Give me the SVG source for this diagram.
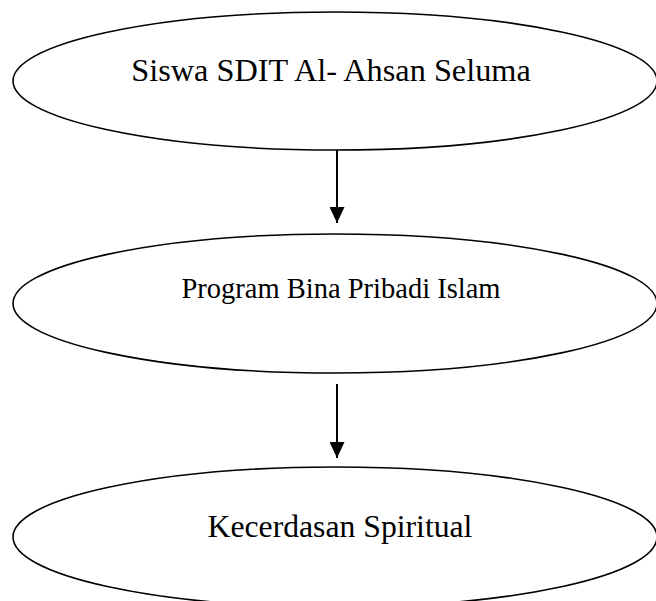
<svg xmlns="http://www.w3.org/2000/svg" width="656" height="601" viewBox="0 0 656 601">
<style>
.node ellipse{fill:#fff;stroke:#000;stroke-width:1.6}
.node text{font-family:"Liberation Serif","Times New Roman",serif;fill:#000;text-anchor:middle}
.conn line{stroke:#000;stroke-width:2}
</style>
<defs>
<marker id="arr" markerWidth="16" markerHeight="15" refX="16" refY="7.5" orient="auto" markerUnits="userSpaceOnUse" viewBox="0 0 16 15">
<path d="M0,0 L16,7.5 L0,15 Z" fill="#000"/>
</marker>
</defs>
<rect width="656" height="601" fill="#fff"/>
<g id="n1" class="node">
<ellipse cx="335" cy="81" rx="322" ry="69"/>
<text x="331" y="81" font-size="32.3">Siswa SDIT Al- Ahsan Seluma</text>
</g>
<g id="n2" class="node">
<ellipse cx="335" cy="303.5" rx="322" ry="69.5"/>
<text x="341" y="298" font-size="28.5">Program Bina Pribadi Islam</text>
</g>
<g id="n3" class="node">
<ellipse cx="335" cy="537" rx="322" ry="70"/>
<text x="340" y="537" font-size="31.7">Kecerdasan Spiritual</text>
</g>
<g id="connectors" class="conn">
<line x1="337" y1="150" x2="337" y2="223" marker-end="url(#arr)"/>
<line x1="337" y1="384" x2="337" y2="458" marker-end="url(#arr)"/>
</g>
</svg>
